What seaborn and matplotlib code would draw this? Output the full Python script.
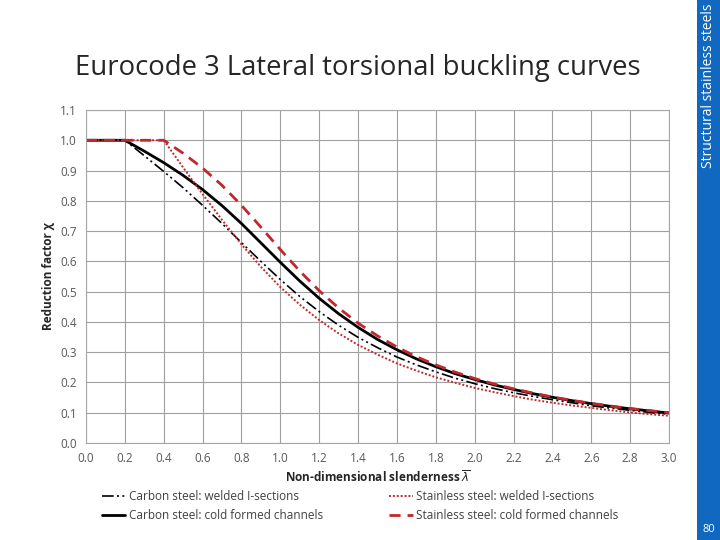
import pandas as pd
import seaborn as sns
import matplotlib.pyplot as plt

# slenderness values (x axis)
slenderness = [0.0, 0.1, 0.2, 0.3, 0.4, 0.5, 0.6, 0.7, 0.8, 0.9, 1.0,
               1.1, 1.2, 1.3, 1.4, 1.5, 1.6, 1.7, 1.8, 1.9, 2.0,
               2.1, 2.2, 2.3, 2.4, 2.5, 2.6, 2.7, 2.8, 2.9, 3.0]

# reduction factors
carbon_welded = [1.0, 1.0, 1.0, 0.949, 0.897, 0.843, 0.785, 0.725, 0.662, 0.600, 0.540,
                 0.484, 0.434, 0.389, 0.349, 0.315, 0.284, 0.258, 0.235, 0.214, 0.196,
                 0.180, 0.166, 0.154, 0.143, 0.133, 0.123, 0.115, 0.108, 0.101, 0.095]
carbon_cf = [1.0, 1.0, 1.0, 0.964, 0.926, 0.884, 0.837, 0.784, 0.725, 0.661, 0.597,
             0.535, 0.478, 0.427, 0.382, 0.342, 0.308, 0.278, 0.252, 0.229, 0.210,
             0.192, 0.177, 0.163, 0.151, 0.140, 0.130, 0.121, 0.113, 0.106, 0.099]
stainless_welded = [1.0, 1.0, 1.0, 1.0, 1.0, 0.910, 0.822, 0.737, 0.656, 0.582, 0.515,
                    0.457, 0.406, 0.362, 0.324, 0.292, 0.263, 0.239, 0.217, 0.199, 0.182,
                    0.168, 0.155, 0.143, 0.133, 0.124, 0.116, 0.108, 0.101, 0.095, 0.090]
stainless_cf = [1.0, 1.0, 1.0, 1.0, 1.0, 0.957, 0.908, 0.851, 0.785, 0.713, 0.639,
                0.568, 0.503, 0.446, 0.396, 0.354, 0.317, 0.285, 0.258, 0.234, 0.213,
                0.195, 0.179, 0.165, 0.152, 0.141, 0.131, 0.122, 0.114, 0.107, 0.100]

labels = ["Carbon steel: welded I-sections",
          "Carbon steel: cold formed channels",
          "Stainless steel: welded I-sections",
          "Stainless steel: cold formed channels"]
x_ticks = [0.0, 0.2, 0.4, 0.6, 0.8, 1.0, 1.2, 1.4, 1.6, 1.8, 2.0, 2.2, 2.4, 2.6, 2.8, 3.0]
y_ticks = [0.0, 0.1, 0.2, 0.3, 0.4, 0.5, 0.6, 0.7, 0.8, 0.9, 1.0, 1.1]

sns.set_style("white")
plt.rcParams['font.family'] = ['Open Sans', 'DejaVu Sans']

fig = plt.figure(figsize=(7.2, 5.4), dpi=100)
ax = fig.add_axes([86 / 720, 1 - 443 / 540, 583 / 720, 333 / 540])

red = "#C0282D"
styles = [
    dict(color="black", lw=1.2, linestyle=(0, (7, 2, 1.2, 2, 1.2, 2))),
    dict(color="black", lw=2.0, linestyle="-"),
    dict(color=red, lw=1.4, linestyle=(0, (1, 1))),
    dict(color=red, lw=2.0, linestyle=(0, (4, 2.5))),
]
series = [carbon_welded, carbon_cf, stainless_welded, stainless_cf]
for vals, lab, st in zip(series, labels, styles):
    sns.lineplot(x=slenderness, y=vals, ax=ax, label=lab, **st)

ax.set_xlim(0, 3.0)
ax.set_ylim(0, 1.1)
ax.set_xticks(x_ticks)
ax.set_yticks(y_ticks)
ax.set_xticklabels([f"{t:.1f}" for t in x_ticks])
ax.set_yticklabels([f"{t:.1f}" for t in y_ticks])
ax.tick_params(axis="both", labelsize=8.5, colors="#595959", length=3, width=0.8)
ax.grid(True, color="#a0a0a0", lw=0.8)
for s in ax.spines.values():
    s.set_color("#a6a6a6")
    s.set_linewidth(0.8)

ax.set_xlabel(r"Non-dimensional slenderness $\overline{\lambda}$", fontsize=8.5,
              fontweight="bold", color="#262626", labelpad=3)
ax.set_ylabel("Reduction factor χ", fontsize=8.5, fontweight="bold",
              color="#262626", labelpad=4)

handles, labs = ax.get_legend_handles_labels()
ax.get_legend().remove()
fig.legend(handles, labs, ncol=2, loc="center", bbox_to_anchor=(0.5, 0.063),
           frameon=False, fontsize=8.5, labelcolor="#404040", handlelength=2.0,
           handletextpad=0.3, columnspacing=5.6, labelspacing=0.45)

fig.text(75 / 720, 1 - 68 / 540, "Eurocode 3 Lateral torsional buckling curves",
         fontsize=19.8, color="#262626", va="center", ha="left")

# blue side bar of the slide
bar = fig.add_axes([697 / 720, 0, 23 / 720, 1])
bar.set_facecolor("#1068C0")
bar.set_xticks([])
bar.set_yticks([])
for s in bar.spines.values():
    s.set_visible(False)
bar.text(0.5, 1 - 4 / 540, "Structural stainless steels", rotation=90, color="white",
         fontsize=10, ha="center", va="top", transform=bar.transAxes)
bar.text(0.5, 10 / 540, "80", color="white", fontsize=8, ha="center", va="center",
         transform=bar.transAxes)

fig.savefig("out.png", dpi=100)
